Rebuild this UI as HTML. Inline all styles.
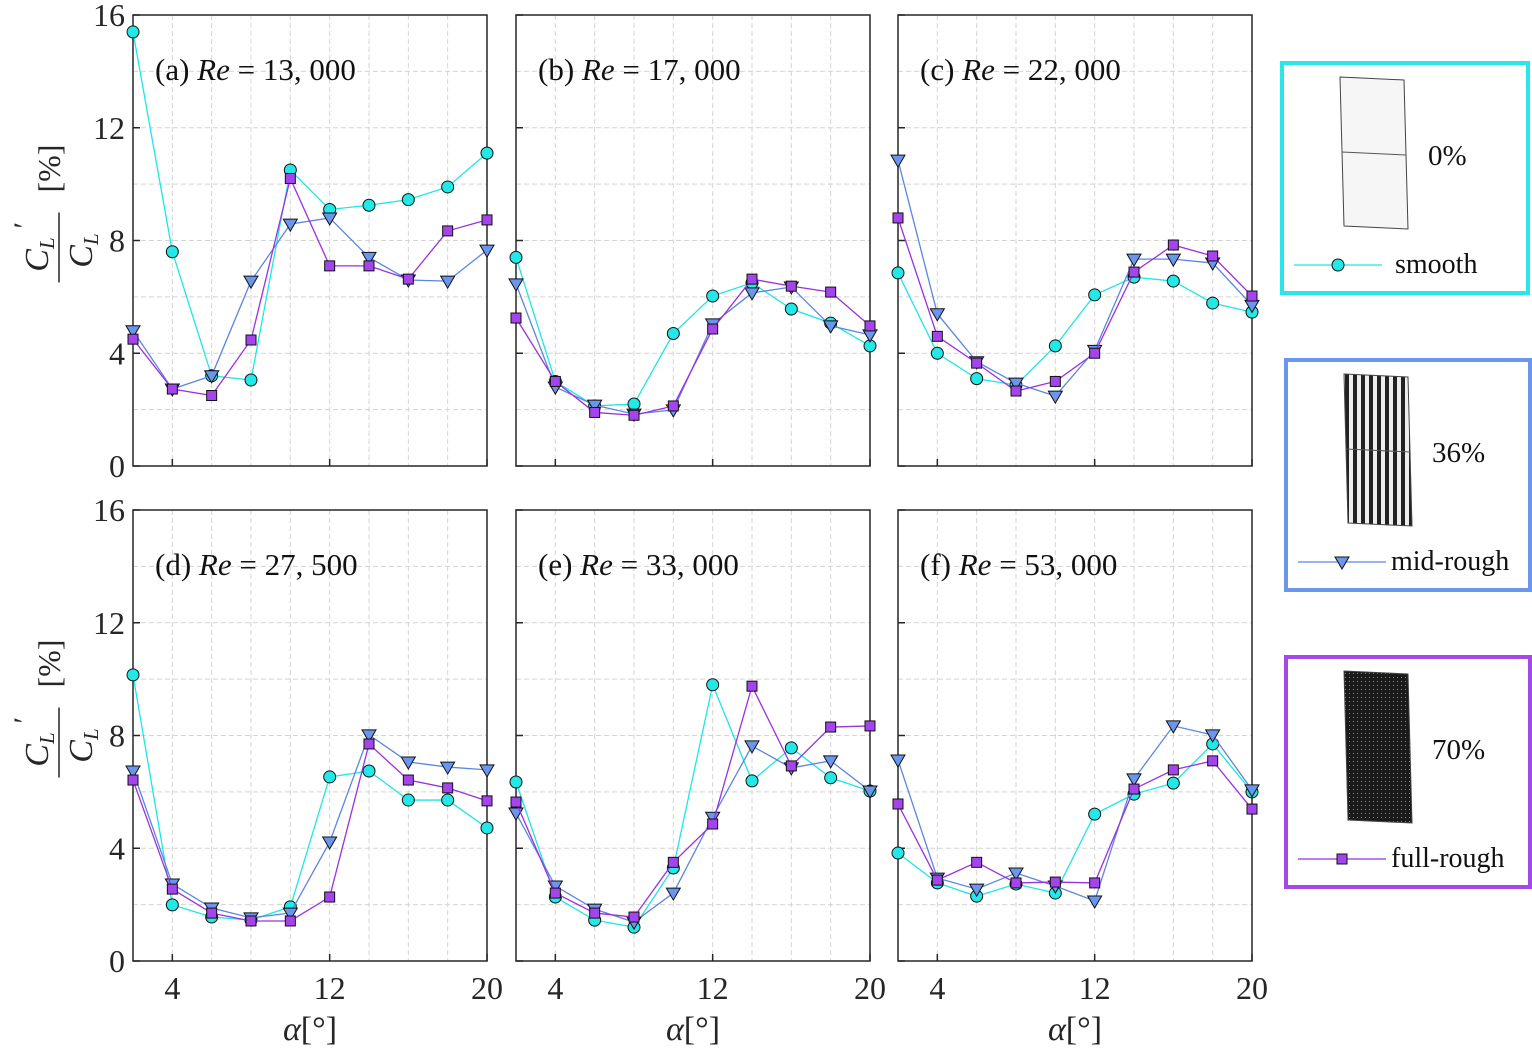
<!DOCTYPE html>
<html><head><meta charset="utf-8"><style>
body{margin:0;background:#fff;}
svg{display:block;font-family:"Liberation Serif",serif;}
</style></head><body>
<svg id="chart" width="1532" height="1050" viewBox="0 0 1532 1050" xmlns="http://www.w3.org/2000/svg"></svg>
<script>
const alphas=[2,4,6,8,10,12,14,16,18,20];
const panelTitles=["(a)|13, 000","(b)|17, 000","(c)|22, 000","(d)|27, 500","(e)|33, 000","(f)|53, 000"];
const smoothVals=[
[15.4,7.6,3.2,3.05,10.5,9.1,9.25,9.45,9.9,11.1],
[7.4,3.0,2.13,2.2,4.7,6.03,6.5,5.57,5.07,4.26],
[6.85,4.0,3.1,2.87,4.26,6.07,6.7,6.56,5.78,5.46],
[10.15,1.99,1.56,1.45,1.92,6.53,6.74,5.71,5.71,4.72],
[6.35,2.27,1.45,1.2,3.3,9.8,6.39,7.56,6.5,6.03],
[3.83,2.77,2.3,2.73,2.41,5.21,5.92,6.31,7.7,6.0]];
const midVals=[
[4.8,2.73,3.2,6.56,8.58,8.8,7.4,6.6,6.56,7.66],
[6.46,2.8,2.16,1.84,1.99,5.04,6.14,6.35,4.97,4.65],
[10.85,5.4,3.7,2.94,2.48,4.1,7.34,7.34,7.2,5.7],
[6.74,2.73,1.88,1.53,1.7,4.22,8.02,7.06,6.88,6.78],
[5.25,2.66,1.84,1.38,2.41,5.1,7.63,6.85,7.1,6.03],
[7.13,2.94,2.55,3.12,2.66,2.13,6.46,8.34,8.02,6.07]];
const fullVals=[
[4.5,2.73,2.5,4.47,10.2,7.1,7.1,6.63,8.34,8.73],
[5.25,3.0,1.9,1.8,2.13,4.86,6.63,6.38,6.17,4.97],
[8.8,4.6,3.65,2.66,3.0,4.0,6.88,7.84,7.45,6.03],
[6.42,2.55,1.7,1.42,1.42,2.27,7.7,6.42,6.14,5.68],
[5.64,2.41,1.7,1.56,3.5,4.86,9.75,6.92,8.3,8.34],
[5.57,2.87,3.5,2.77,2.8,2.77,6.1,6.78,7.1,5.39]];
const yTicks=[0,4,8,12,16];
const xTicks=[4,12,20];

const NS="http://www.w3.org/2000/svg";
const svg=document.getElementById('chart');
function mk(tag,attrs,parent){const e=document.createElementNS(NS,tag);for(const k in attrs)e.setAttribute(k,attrs[k]);(parent||svg).appendChild(e);return e;}
const colX=[133,516,898], W=354, rowY=[15,510], H=451;
const series=[
 {name:'smooth',vals:smoothVals,line:'#1ee6e6',fill:'#22e8e8',shape:'circle'},
 {name:'mid-rough',vals:midVals,line:'#5b86e0',fill:'#6a96ee',shape:'tri'},
 {name:'full-rough',vals:fullVals,line:'#9b30e0',fill:'#a444ec',shape:'square'}];
function marker(g,shape,x,y,fill){
 let m;
 if(shape==='circle')m=mk('circle',{cx:x,cy:y,r:6,fill:fill,stroke:'#111','stroke-width':1},g);
 else if(shape==='tri')m=mk('polygon',{points:`${x-7},${y-5} ${x+7},${y-5} ${x},${y+7}`,fill:fill,stroke:'#111','stroke-width':1},g);
 else m=mk('rect',{x:x-5,y:y-5,width:10,height:10,fill:fill,stroke:'#111','stroke-width':1},g);
 return m;
}
for(let p=0;p<6;p++){
 const r=Math.floor(p/3),c=p%3;
 const x0=colX[c],y0=rowY[r];
 const sx=v=>x0+(v-2)/18*W, sy=v=>y0+H-v/16*H;
 const g=mk('g',{});
 
 
 for(let v=4;v<20;v+=2)mk('line',{x1:sx(v),x2:sx(v),y1:y0,y2:y0+H,stroke:'#d4d4d4','stroke-dasharray':'5,3','stroke-width':1},g);
 for(let v=2;v<16;v+=2)mk('line',{x1:x0,x2:x0+W,y1:sy(v),y2:sy(v),stroke:'#d4d4d4','stroke-dasharray':'5,3','stroke-width':1},g);
 mk('rect',{x:x0,y:y0,width:W,height:H,fill:'none',stroke:'#262626','stroke-width':1.5},g);
 xTicks.forEach(v=>{mk('line',{x1:sx(v),x2:sx(v),y1:y0+H,y2:y0+H-7,stroke:'#262626','stroke-width':1.5},g);
  if(r===1){const t=mk('text',{x:sx(v),y:y0+H+38,'font-size':32,'text-anchor':'middle',fill:'#262626'},g);t.textContent=v;}});
 yTicks.forEach(v=>{mk('line',{x1:x0,x2:x0+7,y1:sy(v),y2:sy(v),stroke:'#262626','stroke-width':1.5},g);
  if(c===0){const t=mk('text',{x:x0-8,y:sy(v)+11,'font-size':32,'text-anchor':'end',fill:'#262626'},g);t.textContent=v;}});
 const tp=panelTitles[p].split('|');
 const tt=mk('text',{x:x0+22,y:y0+65,'font-size':31,fill:'#111','xml:space':'preserve'},g);
 
 
 tt.innerHTML=tp[0]+'  <tspan font-style="italic">Re</tspan>  =  '+tp[1];
 series.forEach(s=>{
  const vals=s.vals[p];
  const pts=alphas.map((a,i)=>sx(a)+','+sy(vals[i])).join(' ');
  const pl=mk('polyline',{points:pts,fill:'none',stroke:s.line,'stroke-width':1.3},g);
  
  
  alphas.forEach((a,i)=>{const m=marker(g,s.shape,sx(a),sy(vals[i]),s.fill);
   
   });
 });
 if(r===1){const xl=mk('text',{x:x0+W/2,y:1040,'font-size':34,'text-anchor':'middle',fill:'#262626'},g);
  xl.innerHTML='<tspan font-style="italic">α</tspan>[°]';
  
  }
 if(c===0){
  const yl=mk('g',{transform:`translate(${62},${y0+H/2}) rotate(-90)`},g);
  
  
  const a=mk('text',{x:-14,y:-14,'font-size':34,'text-anchor':'middle','font-style':'italic',fill:'#262626'},yl);a.innerHTML='C<tspan font-size="21" dy="6">L</tspan>';
  const pr=mk('text',{x:12,y:-28,'font-size':30,fill:'#262626'},yl);pr.textContent='′';
  mk('line',{x1:-42,x2:28,y1:-3,y2:-3,stroke:'#262626','stroke-width':1.5},yl);
  const b=mk('text',{x:-10,y:30,'font-size':34,'text-anchor':'middle','font-style':'italic',fill:'#262626'},yl);b.innerHTML='C<tspan font-size="21" dy="6">L</tspan>';
  const d=mk('text',{x:72,y:-2,'font-size':32,'text-anchor':'middle',fill:'#262626'},yl);d.textContent='[%]';
 }
}
const legends=[
 {x:1282,y:63,w:246,h:230,col:'#2ae6ea',pct:'0%',label:'smooth',s:0,tex:'none',lx:1395},
 {x:1286,y:360,w:244,h:230,col:'#6a96ee',pct:'36%',label:'mid-rough',s:1,tex:'stripes',lx:1391},
 {x:1286,y:657,w:244,h:230,col:'#a448ea',pct:'70%',label:'full-rough',s:2,tex:'dense',lx:1391}];
const defs=mk('defs',{});
const p1=mk('pattern',{id:'stripes',width:8,height:6,patternUnits:'userSpaceOnUse'},defs);
mk('rect',{width:8,height:6,fill:'#eee'},p1);mk('rect',{x:1,width:4,height:6,fill:'#222'},p1);
const p2=mk('pattern',{id:'dense',width:4,height:4,patternUnits:'userSpaceOnUse'},defs);
mk('rect',{width:4,height:4,fill:'#1a1a1a'},p2);mk('rect',{x:1,y:1,width:1,height:1,fill:'#888'},p2);
legends.forEach(L=>{
 const g=mk('g',{});
 
 
 mk('rect',{x:L.x,y:L.y,width:L.w,height:L.h,fill:'#fff',stroke:L.col,'stroke-width':4},g);
 const ax=L.x+58, ay=L.y+14;
 mk('polygon',{points:`${ax},${ay} ${ax+64},${ay+3} ${ax+68},${ay+152} ${ax+4},${ay+149}`,fill:L.tex==='none'?'#f6f6f6':`url(#${L.tex})`,stroke:'#444','stroke-width':1},g);
 if(L.tex!=='dense')mk('line',{x1:ax+2,y1:ay+75,x2:ax+66,y2:ay+78,stroke:'#555','stroke-width':1},g);
 const t=mk('text',{x:L.x+146,y:L.y+102,'font-size':29,fill:'#111'},g);t.textContent=L.pct;
 const s=series[L.s];
 mk('line',{x1:L.x+12,x2:L.x+100,y1:L.y+202,y2:L.y+202,stroke:s.line,'stroke-width':1.3},g);
 marker(g,s.shape,L.x+56,L.y+202,s.fill);
 const lt=mk('text',{x:L.lx,y:L.y+210,'font-size':28,fill:'#111'},g);lt.textContent=L.label;
});
</script>
</body></html>
